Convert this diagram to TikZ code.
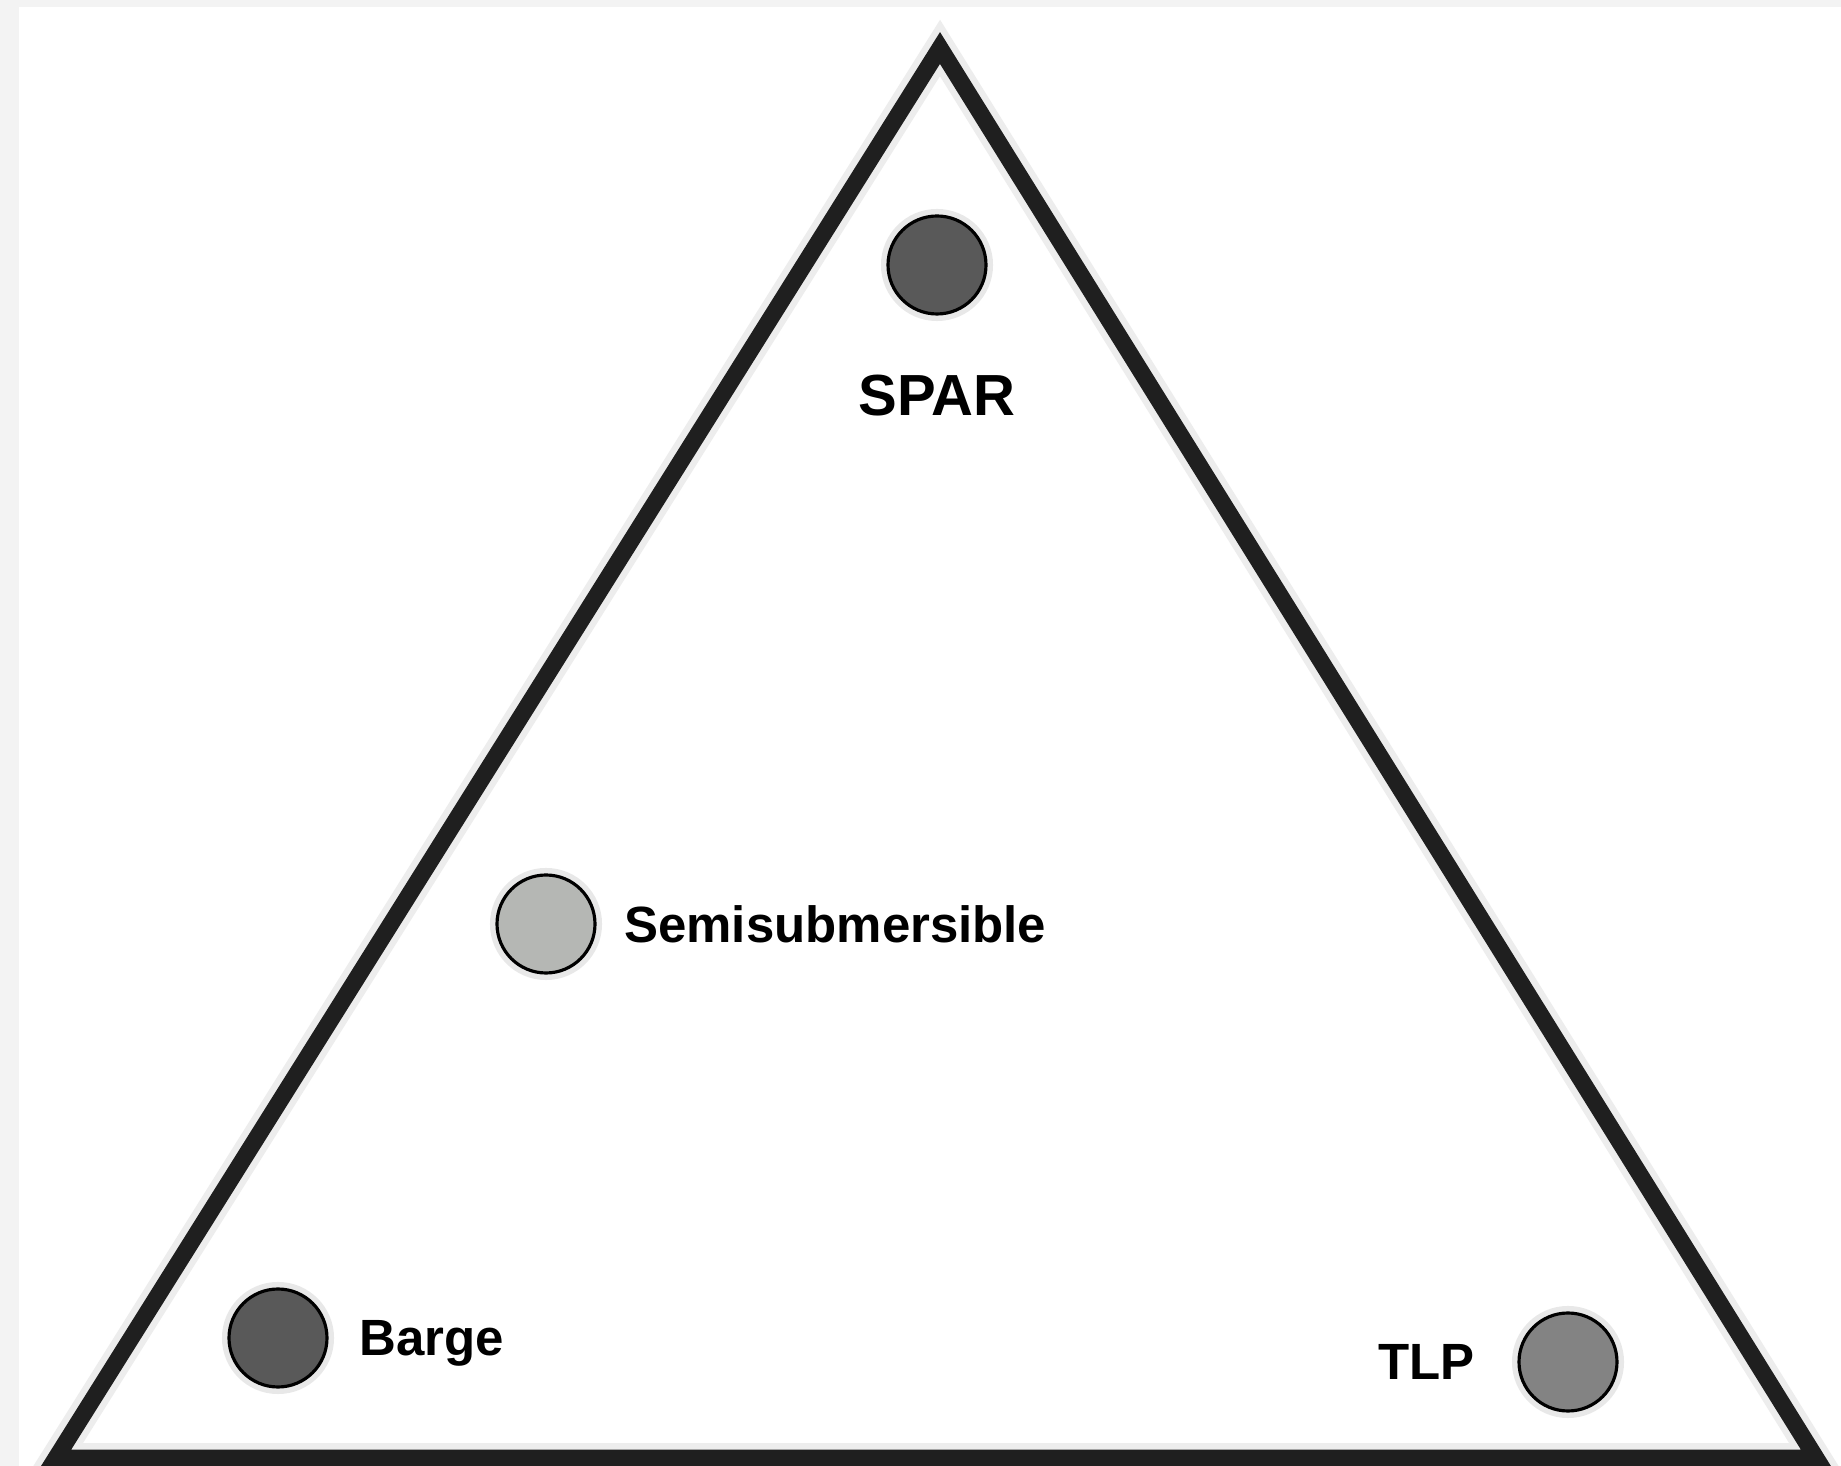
\documentclass[tikz,border=0pt]{standalone}
\usepackage{fontspec}
\setmainfont{Liberation Sans}
\usetikzlibrary{positioning}

\definecolor{pagegray}{HTML}{F3F3F3}
\definecolor{darkfill}{HTML}{595959}
\definecolor{midfill}{HTML}{838383}
\definecolor{lightfill}{HTML}{B5B7B4}

\begin{document}
\begin{tikzpicture}[
    platform/.style={circle, draw=black, line width=0.9pt, minimum size=0.98cm, inner sep=0pt,
        preaction={draw=black!9, line width=4pt}},
    tag/.style={inner sep=0pt, text depth=0pt, font=\fontsize{14.5}{17}\selectfont\bfseries},
    frame/.style={line width=4.8pt, draw=black!88, line join=miter},
    halo/.style={line width=8.5pt, draw=black!7, line join=miter}
]

% -------------------------
% BACKGROUND
% -------------------------
\fill[pagegray] (0,0) rectangle (18.41,14.66);
\fill[white] (0.19,0) rectangle (18.41,14.59);
\useasboundingbox (0,0) rectangle (18.41,14.66);

% -------------------------
% TRIANGLE
% -------------------------
\coordinate (Top) at (9.40,14.18);
\coordinate (BotLeft) at (0.56,0.08);
\coordinate (BotRight) at (18.16,0.08);

\draw[halo] (Top) -- (BotLeft) -- (BotRight) -- cycle;
\draw[frame] (Top) -- (BotLeft) -- (BotRight) -- cycle;

% -------------------------
% PLATFORMS
% -------------------------
\node[platform, fill=darkfill] (Spar) at (9.37,12.01) {};
\node[tag, font=\fontsize{16.5}{19}\selectfont\bfseries] (SparText) [below=0.59cm of Spar] {SPAR};

\node[platform, fill=lightfill] (Semi) at (5.46,5.42) {};
\node[tag] (SemiText) [right=0.27cm of Semi] {Semisubmersible};

\node[platform, fill=darkfill] (Barge) at (2.78,1.28) {};
\node[tag] (BargeText) [right=0.30cm of Barge] {Barge};

\node[platform, fill=midfill] (Tlp) at (15.68,1.04) {};
\node[tag] (TlpText) [left=0.42cm of Tlp] {TLP};

\end{tikzpicture}
\end{document}
